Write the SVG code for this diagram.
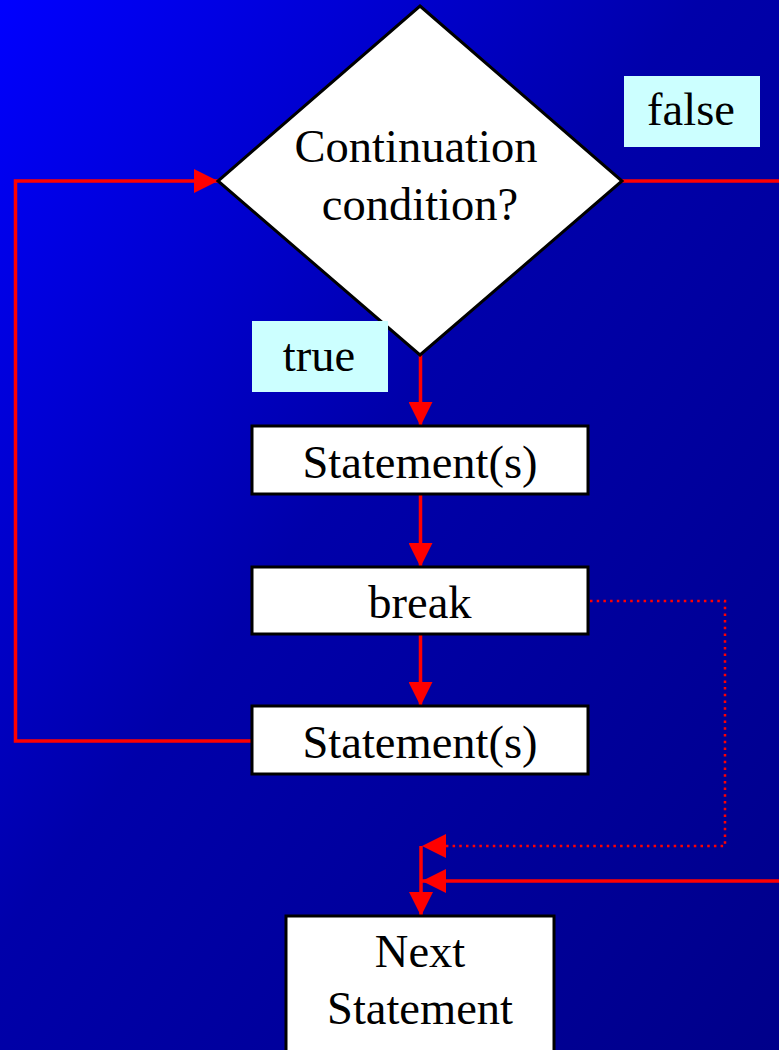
<svg xmlns="http://www.w3.org/2000/svg" width="779" height="1050" viewBox="0 0 779 1050">
  <defs>
    <linearGradient id="bg" x1="0" y1="0" x2="1" y2="1">
      <stop offset="0" stop-color="#0000FF"/>
      <stop offset="0.45" stop-color="#0000AA"/>
      <stop offset="1" stop-color="#00008A"/>
    </linearGradient>
    <marker id="head" viewBox="0 0 24 24" refX="24" refY="12" markerWidth="24" markerHeight="24" markerUnits="userSpaceOnUse" orient="auto">
      <path d="M0,0 L24,12 L0,24 Z" fill="#FF0000"/>
    </marker>
    <style>
      .node { fill: #FFFFFF; stroke: #000000; stroke-width: 3; }
      .label { fill: #CCFFFF; }
      .txt { font-family: "Liberation Serif", "Times New Roman", serif; font-size: 46.5px; fill: #000000; text-anchor: middle; }
      .wire { fill: none; stroke: #FF0000; stroke-width: 3.5; }
      .dots { fill: none; stroke: #FF0000; stroke-width: 2.5; stroke-dasharray: 2.5 4.2; }
    </style>
  </defs>

  <rect x="0" y="0" width="779" height="1050" fill="url(#bg)"/>

  <!-- connectors -->
  <g id="connectors">
    <path class="wire" d="M420.5,355 V426" marker-end="url(#head)"/>
    <path class="wire" d="M420.5,494 V567" marker-end="url(#head)"/>
    <path class="wire" d="M420.5,634 V706" marker-end="url(#head)"/>
    <path class="wire" d="M252,741 H15.5 V181 H218" marker-end="url(#head)"/>
    <path class="wire" d="M622,181 H779"/>
    <path class="wire" d="M779,881 H422" marker-end="url(#head)"/>
    <path class="dots" d="M590,601 H725 V846 H446"/>
    <path d="M446,834 L422,846 L446,858 Z" fill="#FF0000"/>
    <path class="wire" d="M421,846 V916" marker-end="url(#head)"/>
  </g>

  <!-- decision -->
  <g id="condition">
    <polygon class="node" points="420,6 622,181 420,355 218,181"/>
    <text class="txt" x="416" y="162">Continuation</text>
    <text class="txt" x="420" y="220">condition?</text>
  </g>

  <g id="label-false">
    <rect class="label" x="624" y="76" width="136" height="71"/>
    <text class="txt" x="691" y="125">false</text>
  </g>

  <g id="label-true">
    <rect class="label" x="252" y="321" width="136" height="71"/>
    <text class="txt" x="319" y="371">true</text>
  </g>

  <g id="statements-1">
    <rect class="node" x="252" y="426" width="336" height="68"/>
    <text class="txt" x="420" y="478">Statement(s)</text>
  </g>

  <g id="break">
    <rect class="node" x="252" y="567" width="336" height="67"/>
    <text class="txt" x="420" y="618">break</text>
  </g>

  <g id="statements-2">
    <rect class="node" x="252" y="706" width="336" height="68"/>
    <text class="txt" x="420" y="758">Statement(s)</text>
  </g>

  <g id="next-statement">
    <rect class="node" x="286" y="916" width="268" height="150"/>
    <text class="txt" x="420" y="967">Next</text>
    <text class="txt" x="420" y="1024">Statement</text>
  </g>
</svg>
